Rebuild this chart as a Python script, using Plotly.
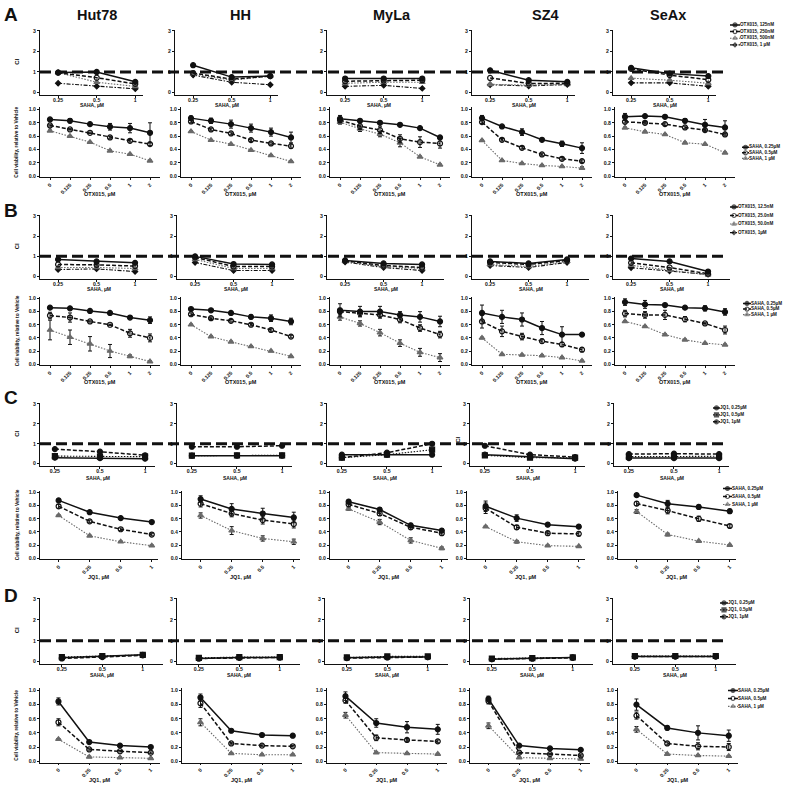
import plotly.graph_objects as go

W, H = 795, 789
FONT = "Liberation Sans, Arial, sans-serif"

cell_lines = ["Hut78", "HH", "MyLa", "SZ4", "SeAx"]
saha_doses = ["0.25", "0.5", "1"]
otx_doses = ["0", "0.125", "0.25", "0.5", "1", "2"]
jq1_doses = ["0", "0.25", "0.5", "1"]

otx_names_a = ["OTX015, 125nM", "OTX015, 250nM", "OTX015, 500nM", "OTX015, 1 µM"]
otx_names_b = ["OTX015, 12.5nM", "OTX015, 25.0nM", "OTX015, 50.0nM", "OTX015, 1µM"]
jq1_names = ["JQ1, 0.25µM", "JQ1, 0.5µM", "JQ1, 1µM"]
saha_names = ["SAHA, 0.25µM", "SAHA, 0.5µM", "SAHA, 1 µM"]

# ---------- A : SAHA x OTX015 ----------
# CI, per cell line: one row per OTX015 dose, values at SAHA 0.25 / 0.5 / 1 uM
a_ci = [
    [[0.97, 1.0, 0.52], [0.97, 0.72, 0.42], [0.97, 0.5, 0.3], [0.45, 0.3, 0.18]],
    [[1.33, 0.75, 0.8], [0.95, 0.65, 0.8], [0.9, 0.6, 0.8], [0.85, 0.5, 0.38]],
    [[0.68, 0.68, 0.68], [0.55, 0.58, 0.6], [0.45, 0.5, 0.5], [0.3, 0.35, 0.2]],
    [[1.08, 0.6, 0.52], [0.71, 0.44, 0.45], [0.4, 0.36, 0.4], [0.38, 0.32, 0.39]],
    [[1.2, 0.92, 0.8], [1.15, 0.85, 0.62], [0.7, 0.6, 0.45], [0.47, 0.47, 0.3]],
]
# viability, one row per SAHA dose, values at OTX015 doses
a_via = [
    [[0.85, 0.83, 0.78, 0.74, 0.72, 0.65], [0.76, 0.7, 0.65, 0.58, 0.53, 0.48], [0.68, 0.6, 0.51, 0.38, 0.33, 0.23]],
    [[0.87, 0.83, 0.78, 0.72, 0.66, 0.58], [0.82, 0.7, 0.64, 0.54, 0.49, 0.45], [0.67, 0.54, 0.48, 0.39, 0.31, 0.22]],
    [[0.86, 0.83, 0.8, 0.77, 0.72, 0.58], [0.84, 0.75, 0.69, 0.56, 0.51, 0.49], [0.81, 0.71, 0.63, 0.5, 0.29, 0.17]],
    [[0.87, 0.745, 0.66, 0.545, 0.485, 0.42], [0.81, 0.545, 0.425, 0.325, 0.26, 0.225], [0.535, 0.235, 0.19, 0.16, 0.145, 0.12]],
    [[0.89, 0.9, 0.89, 0.83, 0.77, 0.73], [0.815, 0.8, 0.78, 0.73, 0.69, 0.625], [0.725, 0.665, 0.625, 0.5, 0.48, 0.35]],
]
a_err = [
    [[0.01, 0.03, 0.01, 0.05, 0.07, 0.15], [0.01, 0.01, 0.01, 0.02, 0.02, 0.02], [0.01, 0.01, 0.01, 0.01, 0.01, 0.01]],
    [[0.03, 0.04, 0.06, 0.06, 0.06, 0.08], [0.02, 0.02, 0.02, 0.02, 0.02, 0.03], [0.01, 0.01, 0.01, 0.01, 0.01, 0.01]],
    [[0.05, 0.02, 0.02, 0.02, 0.02, 0.02], [0.04, 0.05, 0.05, 0.06, 0.08, 0.07], [0.03, 0.04, 0.04, 0.06, 0.01, 0.01]],
    [[0.04, 0.01, 0.05, 0.01, 0.04, 0.08], [0.02, 0.02, 0.02, 0.02, 0.02, 0.02], [0.01, 0.01, 0.01, 0.01, 0.01, 0.02]],
    [[0.05, 0.01, 0.01, 0.03, 0.08, 0.1], [0.02, 0.02, 0.02, 0.02, 0.02, 0.02], [0.01, 0.01, 0.01, 0.01, 0.01, 0.01]],
]

# ---------- B : SAHA x OTX015 (low doses) ----------
b_ci = [
    [[0.85, 0.75, 0.68], [0.6, 0.58, 0.52], [0.45, 0.45, 0.4], [0.35, 0.38, 0.25]],
    [[1.0, 0.62, 0.6], [0.95, 0.5, 0.5], [0.85, 0.4, 0.4], [0.7, 0.3, 0.3]],
    [[0.8, 0.65, 0.6], [0.78, 0.55, 0.45], [0.75, 0.5, 0.4], [0.72, 0.45, 0.3]],
    [[0.75, 0.65, 0.85], [0.7, 0.6, 0.8], [0.6, 0.5, 0.75], [0.55, 0.45, 0.7]],
    [[0.89, 0.75, 0.25], [0.68, 0.45, 0.14], [0.56, 0.32, 0.08], [0.44, 0.28, 0.11]],
]
b_via = [
    [[0.86, 0.85, 0.81, 0.78, 0.71, 0.67], [0.74, 0.71, 0.65, 0.6, 0.47, 0.4], [0.52, 0.41, 0.31, 0.2, 0.12, 0.04]],
    [[0.84, 0.82, 0.78, 0.72, 0.7, 0.65], [0.76, 0.7, 0.66, 0.6, 0.52, 0.42], [0.6, 0.42, 0.34, 0.27, 0.2, 0.12]],
    [[0.82, 0.8, 0.8, 0.75, 0.72, 0.65], [0.8, 0.78, 0.75, 0.68, 0.55, 0.45], [0.72, 0.62, 0.48, 0.32, 0.18, 0.1]],
    [[0.78, 0.72, 0.68, 0.55, 0.45, 0.45], [0.65, 0.5, 0.42, 0.35, 0.3, 0.22], [0.4, 0.15, 0.14, 0.13, 0.1, 0.05]],
    [[0.945, 0.91, 0.9, 0.86, 0.85, 0.795], [0.77, 0.75, 0.75, 0.685, 0.62, 0.52], [0.65, 0.575, 0.45, 0.37, 0.32, 0.295]],
]
b_err = [
    [[0.01, 0.01, 0.01, 0.01, 0.01, 0.05], [0.05, 0.07, 0.01, 0.01, 0.06, 0.06], [0.15, 0.11, 0.11, 0.1, 0.02, 0.01]],
    [[0.01, 0.01, 0.02, 0.03, 0.05, 0.05], [0.02, 0.02, 0.02, 0.02, 0.02, 0.02], [0.01, 0.01, 0.01, 0.01, 0.01, 0.01]],
    [[0.1, 0.08, 0.08, 0.05, 0.08, 0.08], [0.05, 0.05, 0.05, 0.05, 0.05, 0.05], [0.05, 0.04, 0.05, 0.05, 0.06, 0.06]],
    [[0.12, 0.1, 0.1, 0.1, 0.12, 0.02], [0.1, 0.08, 0.05, 0.03, 0.03, 0.03], [0.01, 0.01, 0.01, 0.01, 0.01, 0.01]],
    [[0.05, 0.06, 0.01, 0.01, 0.04, 0.05], [0.05, 0.05, 0.07, 0.04, 0.01, 0.06], [0.01, 0.01, 0.01, 0.01, 0.01, 0.01]],
]

# ---------- C : SAHA x JQ1 ----------
c_ci = [
    [[0.3, 0.28, 0.25], [0.38, 0.35, 0.35], [0.73, 0.6, 0.42]],
    [[0.4, 0.4, 0.4], [0.4, 0.42, 0.42], [0.85, 0.85, 0.9]],
    [[0.45, 0.45, 0.45], [0.3, 0.45, 0.7], [0.3, 0.55, 1.0]],
    [[0.45, 0.35, 0.25], [0.42, 0.3, 0.3], [0.9, 0.45, 0.33]],
    [[0.28, 0.28, 0.28], [0.35, 0.37, 0.37], [0.48, 0.5, 0.48]],
]
c_via = [
    [[0.88, 0.7, 0.61, 0.55], [0.79, 0.56, 0.44, 0.36], [0.65, 0.34, 0.25, 0.19]],
    [[0.9, 0.75, 0.68, 0.62], [0.83, 0.68, 0.58, 0.52], [0.65, 0.42, 0.3, 0.25]],
    [[0.86, 0.74, 0.5, 0.42], [0.82, 0.68, 0.47, 0.38], [0.75, 0.55, 0.27, 0.15]],
    [[0.79, 0.61, 0.51, 0.48], [0.76, 0.47, 0.38, 0.37], [0.48, 0.25, 0.19, 0.18]],
    [[0.96, 0.83, 0.78, 0.715], [0.83, 0.725, 0.6, 0.49], [0.71, 0.36, 0.26, 0.2]],
]
c_err = [
    [[0.02, 0.02, 0.02, 0.01], [0.03, 0.02, 0.02, 0.02], [0.01, 0.01, 0.01, 0.01]],
    [[0.05, 0.08, 0.08, 0.08], [0.05, 0.05, 0.06, 0.06], [0.04, 0.06, 0.04, 0.04]],
    [[0.03, 0.03, 0.03, 0.03], [0.03, 0.03, 0.03, 0.03], [0.02, 0.04, 0.04, 0.02]],
    [[0.08, 0.05, 0.03, 0.03], [0.08, 0.03, 0.03, 0.03], [0.01, 0.02, 0.01, 0.01]],
    [[0.02, 0.05, 0.03, 0.03], [0.03, 0.05, 0.04, 0.02], [0.03, 0.02, 0.01, 0.01]],
]

# ---------- D : SAHA x JQ1 ----------
d_ci = [
    [[0.18, 0.25, 0.33], [0.22, 0.27, 0.32], [0.15, 0.22, 0.3]],
    [[0.15, 0.2, 0.2], [0.18, 0.22, 0.22], [0.15, 0.18, 0.2]],
    [[0.18, 0.22, 0.22], [0.2, 0.25, 0.25], [0.17, 0.2, 0.22]],
    [[0.12, 0.15, 0.2], [0.15, 0.17, 0.2], [0.12, 0.15, 0.18]],
    [[0.25, 0.25, 0.25], [0.27, 0.27, 0.27], [0.24, 0.24, 0.24]],
]
d_via = [
    [[0.845, 0.27, 0.22, 0.2], [0.55, 0.165, 0.14, 0.12], [0.31, 0.06, 0.05, 0.04]],
    [[0.9, 0.43, 0.37, 0.36], [0.82, 0.25, 0.22, 0.21], [0.55, 0.11, 0.09, 0.09]],
    [[0.92, 0.54, 0.48, 0.45], [0.86, 0.33, 0.3, 0.28], [0.65, 0.12, 0.11, 0.1]],
    [[0.88, 0.22, 0.18, 0.16], [0.85, 0.12, 0.1, 0.08], [0.5, 0.05, 0.04, 0.03]],
    [[0.8, 0.47, 0.4, 0.36], [0.645, 0.25, 0.21, 0.2], [0.45, 0.1, 0.08, 0.07]],
]
d_err = [
    [[0.05, 0.01, 0.01, 0.01], [0.05, 0.01, 0.01, 0.01], [0.01, 0.01, 0.01, 0.01]],
    [[0.05, 0.01, 0.02, 0.02], [0.06, 0.01, 0.01, 0.01], [0.05, 0.01, 0.01, 0.01]],
    [[0.06, 0.06, 0.08, 0.07], [0.04, 0.04, 0.02, 0.02], [0.04, 0.01, 0.01, 0.01]],
    [[0.04, 0.01, 0.01, 0.01], [0.04, 0.01, 0.01, 0.01], [0.04, 0.01, 0.01, 0.01]],
    [[0.08, 0.03, 0.1, 0.08], [0.05, 0.02, 0.05, 0.05], [0.04, 0.01, 0.01, 0.01]],
]

BLK = "#111111"
GRY = "#6a6a6a"
style_otx = [
    dict(dash="solid", symbol="circle", color=BLK, size=5, width=1.5),
    dict(dash="4px,2px", symbol="circle-open", color=BLK, size=5, width=1.5),
    dict(dash="1.5px,1.5px", symbol="triangle-up", color=GRY, size=5, width=1.1),
    dict(dash="4px,1.5px,1.5px,1.5px", symbol="diamond", color=BLK, size=4, width=1.1),
]
style_jq1 = [
    dict(dash="solid", symbol="circle", color=BLK, size=5, width=1.5),
    dict(dash="1.5px,1.5px", symbol="square", color=BLK, size=5, width=1.1),
    dict(dash="4px,2px", symbol="circle", color=BLK, size=5, width=1.5),
]
style_saha = [
    dict(dash="solid", symbol="circle", color=BLK, size=5, width=1.5),
    dict(dash="4px,2px", symbol="circle-open", color=BLK, size=5, width=1.5),
    dict(dash="1.5px,1.5px", symbol="triangle-up", color=GRY, size=5, width=1.1),
]

sections = [
    dict(letter="A", letter_y=13, ci=a_ci, ci_names=otx_names_a, ci_style=style_otx,
         via=a_via, err=a_err, via_x=otx_doses, via_xt="OTX015, µM",
         ci_py=(91, 29), via_py=(175, 108), ci_xt_y=103.5, via_xt_y=193,
         ci_left=[40, 175, 327, 472, 613], ci_w=103, ci_rng=[-0.47, 2.2],
         via_left=[40, 181, 330, 472, 615], via_w=120, via_rng=[-0.5, 5.5],
         leg_ci=(730, 740, 23, 6.7), leg_via=(742, 749, 146, 5.6)),
    dict(letter="B", letter_y=210, ci=b_ci, ci_names=otx_names_b, ci_style=style_otx,
         via=b_via, err=b_err, via_x=otx_doses, via_xt="OTX015, µM",
         ci_py=(276, 215), via_py=(364, 298), ci_xt_y=288, via_xt_y=382,
         ci_left=[40, 177, 327, 472, 613], ci_w=117, ci_rng=[-0.47, 2.57],
         via_left=[40, 181, 330, 472, 615], via_w=120, via_rng=[-0.5, 5.5],
         leg_ci=(730, 738, 206, 8.6), leg_via=(743, 751, 303, 5.6)),
    dict(letter="C", letter_y=398, ci=c_ci, ci_names=jq1_names, ci_style=style_jq1,
         via=c_via, err=c_err, via_x=jq1_doses, via_xt="JQ1, µM",
         ci_py=(464, 404), via_py=(559, 493), ci_xt_y=478, via_xt_y=578,
         ci_left=[40, 177, 327, 470, 614], ci_w=115, ci_rng=[-0.33, 2.22],
         via_left=[40, 182, 330, 467, 618], via_w=118, via_rng=[-0.6, 3.2],
         leg_ci=(713, 720, 408, 7), leg_via=(723, 732, 489, 8)),
    dict(letter="D", letter_y=597, ci=d_ci, ci_names=jq1_names, ci_style=style_jq1,
         via=d_via, err=d_err, via_x=jq1_doses, via_xt="JQ1, µM",
         ci_py=(663, 600), via_py=(763, 692), ci_xt_y=676, via_xt_y=782,
         ci_left=[40, 177, 325, 470, 613], ci_w=123, ci_rng=[-0.54, 2.5],
         via_left=[40, 182, 327, 470, 618], via_w=120, via_rng=[-0.6, 3.3],
         leg_ci=(720, 728, 604, 7), leg_via=(728, 738, 692, 8)),
]

CI_RNG = [-0.12, 3.05]
VIA_RNG = [-0.02, 1.03]


def xdom(left, width):
    return [left / W, (left + width) / W]


def ydom(py_lo, py_hi, v_lo, v_hi, rng):
    ppu = (py_lo - py_hi) / (v_hi - v_lo)
    bottom = py_lo + (v_lo - rng[0]) * ppu
    top = py_hi - (rng[1] - v_hi) * ppu
    return [1 - bottom / H, 1 - top / H]


def akey(kind, n):
    return f"{kind}axis" if n == 1 else f"{kind}axis{n}"


def aref(kind, n):
    return kind if n == 1 else f"{kind}{n}"


tick_font = dict(family=FONT, size=5.2, color=BLK, weight="bold")
fig = go.Figure()
axes = {}
annotations = []
shapes = []


def base_x(n, dom, cats, rng, angle, standoff=0):
    axes[akey("x", n)] = dict(
        domain=dom, anchor=aref("y", n), type="category", categoryorder="array",
        categoryarray=cats, range=rng, showline=True, linecolor=BLK, linewidth=1,
        ticks="outside", ticklen=1.5, tickwidth=1, tickcolor=BLK, tickangle=angle,
        ticklabelstandoff=standoff,
        tickfont=tick_font, showgrid=False, zeroline=False, fixedrange=True)


def base_y(n, dom, rng, vals, text):
    axes[akey("y", n)] = dict(
        domain=dom, anchor=aref("x", n), range=rng, tickvals=vals, ticktext=text,
        showline=True, linecolor=BLK, linewidth=1, ticks="outside", ticklen=2,
        tickwidth=1, tickcolor=BLK, tickfont=tick_font, showgrid=False,
        zeroline=False, fixedrange=True)


def add_series(n, xs, ys, st, err=None):
    fig.add_trace(go.Scatter(
        x=xs, y=ys, mode="lines+markers", xaxis=aref("x", n), yaxis=aref("y", n),
        line=dict(color=st["color"], width=st["width"], dash=st["dash"]),
        marker=dict(symbol=st["symbol"], size=st["size"], color=st["color"],
                    line=dict(width=1.2, color=st["color"])),
        error_y=None if err is None else dict(type="data", array=err, thickness=1,
                                              width=2, color=BLK),
        showlegend=False, cliponaxis=False, hoverinfo="skip"))


def add_legend(n, names, styles, spec):
    x0, x1, y_first, step = spec
    cnt = len(names)
    top = y_first - step / 2
    bottom = y_first + step * (cnt - 0.5)
    axes[akey("x", n)] = dict(domain=[x0 / W, x1 / W], range=[0, 1], visible=False,
                              anchor=aref("y", n), fixedrange=True)
    axes[akey("y", n)] = dict(domain=[1 - bottom / H, 1 - top / H],
                              range=[-(cnt - 0.5), 0.5], visible=False,
                              anchor=aref("x", n), fixedrange=True)
    for k, name in enumerate(names):
        st = styles[k]
        fig.add_trace(go.Scatter(
            x=[0, 0.5, 1], y=[-k, -k, -k], mode="lines+markers+text",
            text=["", "", name], textposition="middle right",
            textfont=dict(family=FONT, size=4.6, color=BLK, weight="bold"),
            xaxis=aref("x", n), yaxis=aref("y", n),
            line=dict(color=st["color"], width=st["width"], dash=st["dash"]),
            marker=dict(symbol=st["symbol"], size=[0, st["size"] - 1, 0], color=st["color"],
                        line=dict(width=1.2, color=st["color"])),
            showlegend=False, cliponaxis=False, hoverinfo="skip"))


def label(text, px, py, size, angle=0, anchor="center"):
    annotations.append(dict(
        text=text, x=px / W, y=1 - py / H, xref="paper", yref="paper",
        showarrow=False, textangle=angle, xanchor=anchor, yanchor="middle",
        font=dict(family=FONT, size=size, color=BLK, weight="bold")))


title_x = [97, 240, 392, 545, 668]
for j, name in enumerate(cell_lines):
    label(name, title_x[j], 13, 14.5)

n = 0
for sec in sections:
    label(sec["letter"], 2, sec["letter_y"], 19, anchor="left")
    ci_dom = ydom(sec["ci_py"][0], sec["ci_py"][1], 0, 3, CI_RNG)
    via_dom = ydom(sec["via_py"][0], sec["via_py"][1], 0, 1, VIA_RNG)
    first_ci = None
    for j in range(5):
        # combination index row
        n += 1
        if first_ci is None:
            first_ci = n
        base_x(n, xdom(sec["ci_left"][j], sec["ci_w"]), saha_doses, sec["ci_rng"], 0, -2)
        base_y(n, ci_dom, CI_RNG, [0, 1, 2, 3], ["0", "1", "2", "3"])
        for k in reversed(range(len(sec["ci"][j]))):
            add_series(n, saha_doses, sec["ci"][j][k], sec["ci_style"][k])
        label("SAHA, µM", sec["ci_left"][j] + sec["ci_w"] / 2, sec["ci_xt_y"], 5)
        # viability row
        n += 1
        base_x(n, xdom(sec["via_left"][j], sec["via_w"]), sec["via_x"], sec["via_rng"], -45)
        base_y(n, via_dom, VIA_RNG, [0, 0.2, 0.4, 0.6, 0.8, 1.0],
               ["0.0", "0.2", "0.4", "0.6", "0.8", "1.0"])
        for k in reversed(range(len(sec["via"][j]))):
            add_series(n, sec["via_x"], sec["via"][j][k], style_saha[k], sec["err"][j][k])
        label(sec["via_xt"], sec["via_left"][j] + sec["via_w"] / 2, sec["via_xt_y"], 5.5)

    # dashed CI = 1 reference line across the whole row
    shapes.append(dict(type="line", xref="paper", yref=aref("y", first_ci),
                       x0=40 / W, x1=728 / W, y0=1, y1=1,
                       line=dict(color=BLK, width=3, dash="11px,5px")))
    label("CI", 17, (sec["ci_py"][0] + sec["ci_py"][1]) / 2, 6, angle=-90)
    label("Cell viability, relative to Vehicle", 17,
          (sec["via_py"][0] + sec["via_py"][1]) / 2, 4.8, angle=-90)

for sec in sections:
    n += 1
    add_legend(n, sec["ci_names"], sec["ci_style"], sec["leg_ci"])
    n += 1
    add_legend(n, saha_names, style_saha, sec["leg_via"])

label("CI", 458, 440, 6, angle=-90)

fig.update_layout(
    width=W, height=H, margin=dict(l=0, r=0, t=0, b=0),
    paper_bgcolor="white", plot_bgcolor="rgba(0,0,0,0)",
    showlegend=False, annotations=annotations, shapes=shapes,
    font=dict(family=FONT, color=BLK), **axes)

fig.write_html("out.html", config={"displayModeBar": False},
               post_script="document.body.style.margin='0px';"
                           "document.body.style.overflow='hidden';")
